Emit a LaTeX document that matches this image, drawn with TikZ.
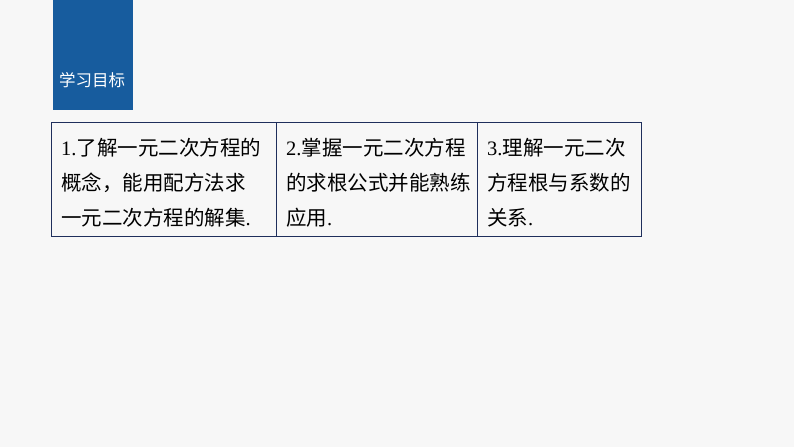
\documentclass[tikz,border=0pt]{standalone}
\usepackage{fontspec}
\setmainfont{Liberation Serif}
\newfontfamily\cjk{Noto Sans CJK SC}
\definecolor{bg}{HTML}{F7F7F7}
\definecolor{hdr}{HTML}{175C9E}
\definecolor{frame}{HTML}{1F2F5C}
\begin{document}
\begin{tikzpicture}[x=1pt,y=-1pt,
  cell/.style={anchor=west,align=left,inner sep=0pt,font=\fontsize{20.5}{35}\selectfont}]
\useasboundingbox (0,0) rectangle (794,447);
\fill[bg] (0,0) rectangle (794,447);
\node[fill=hdr,minimum width=80pt,minimum height=110pt,anchor=north west,inner sep=0pt] (hdr) at (53,0) {};
\node[text=white,font=\cjk\fontsize{16.5}{16.5}\selectfont,anchor=center] (title) at (92,80) {学习目标};
\draw[frame,line width=1pt] (51,122) rectangle (641,236);
\draw[frame,line width=1pt] (276,122) -- (276,236);
\draw[frame,line width=1pt] (477,122) -- (477,236);
\node[cell] (c1) at (61,183) {1.{\cjk 了解一元二次方程的}\\{\cjk 概念，能用配方法求}\\{\cjk 一元二次方程的解集}.};
\node[cell] (c2) at (286,183) {2.{\cjk 掌握一元二次方程}\\{\cjk 的求根公式并能熟练}\\{\cjk 应用}.};
\node[cell] (c3) at (487,183) {3.{\cjk 理解一元二次}\\{\cjk 方程根与系数的}\\{\cjk 关系}.};
\end{tikzpicture}
\end{document}
